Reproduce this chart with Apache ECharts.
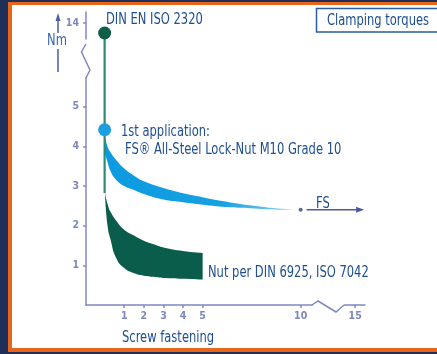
<!DOCTYPE html>
<html>
<head>
<meta charset="utf-8">
<script src="https://cdn.jsdelivr.net/npm/echarts@6/dist/echarts.min.js"></script>
<style>
  html, body { margin: 0; padding: 0; width: 437px; height: 354px; overflow: hidden; background: #1f2f57; }
  .band { position: absolute; }
</style>
</head>
<body>
<div class="band" style="left:8px;top:2px;right:0;bottom:2px;background:#e8661c"></div>
<div class="band" style="left:12px;top:5px;right:0;bottom:6px;background:#fff"></div>
<div id="main" style="position:absolute;left:0;top:0;width:437px;height:354px"></div>
<script>
var dom = document.getElementById("main");
var myChart = echarts.init(dom);

// tick labels
var xTicks = [1, 2, 3, 4, 5, 10, 15];
var yTicks = [1, 2, 3, 4, 5, 14];

// FS all-steel lock nut band (upper/lower edge)
var blueX = [0, 0.15, 0.3, 0.55, 1, 1.5, 2, 3, 4, 5, 6, 7, 8, 9, 10];
var blueHigh = [4.25, 4.0, 3.85, 3.68, 3.44, 3.26, 3.12, 2.95, 2.82, 2.72, 2.62, 2.54, 2.48, 2.43, 2.4];
var blueLow = [3.85, 3.6, 3.38, 3.18, 3.0, 2.9, 2.8, 2.66, 2.59, 2.53, 2.48, 2.45, 2.42, 2.4, 2.39];

// DIN 6925 / ISO 7042 nut band
var greenX = [0.02, 0.15, 0.3, 0.6, 1, 1.5, 2, 2.5, 3, 4, 5];
var greenHigh = [2.82, 2.55, 2.35, 2.12, 1.9, 1.75, 1.62, 1.53, 1.45, 1.36, 1.31];
var greenLow = [2.78, 2.0, 1.65, 1.17, 0.93, 0.8, 0.74, 0.71, 0.68, 0.66, 0.64];

// key points
var dinPoint = [0, 13.75];
var firstApp = [0, 4.42];
var fsEnd = [10, 2.4];
var fsArrow = [[10.3, 2.4], [15.25, 2.4]];

var axisColor = '#8088c4';
var textColor = '#1d4e8f';
var font = '"DejaVu Sans Condensed", sans-serif';

// narrow text: DejaVu condensed squeezed a bit more
function label(txt, x, y, size, extra) {
    var el = { type: 'text', x: x, y: y, z: 52, scaleX: 0.8,
        style: { text: txt, fill: textColor, font: size + 'px ' + font, verticalAlign: 'middle' } };
    if (extra) { for (var k in extra) el.style[k] = extra[k]; }
    return el;
}

// stacked band: y is put first so the stack runs on the y dimension
function bandBase(name, xs, lo) {
    return {
        type: 'line', stack: name, smooth: true, symbol: 'none', z: 3,
        encode: { x: 1, y: 0 },
        lineStyle: { width: 0 },
        data: xs.map(function (x, i) { return [lo[i], x]; })
    };
}
function bandTop(name, xs, hi, lo, color) {
    return {
        type: 'line', stack: name, smooth: true, symbol: 'none', z: 3,
        encode: { x: 1, y: 0 },
        lineStyle: { width: 0 },
        areaStyle: { color: color, opacity: 1 },
        data: xs.map(function (x, i) { return [+(hi[i] - lo[i]).toFixed(3), x]; })
    };
}

option = {
    animation: false,
    grid: { left: 86, right: 72, top: 12, bottom: 49, outerBoundsMode: 'none' },
    xAxis: {
        type: 'value',
        min: -0.95,
        max: 15.5,
        z: 10,
        breaks: [{ start: 10.8, end: 14.3, gap: '9%' }],
        breakArea: { show: false },
        splitLine: { show: false },
        axisLine: { lineStyle: { color: axisColor, width: 1.5 } },
        axisTick: { customValues: xTicks, length: 3, lineStyle: { color: axisColor, width: 1.5 } },
        axisLabel: { customValues: xTicks, color: '#7c87be', fontSize: 10.5, fontWeight: 'bold', fontFamily: font, margin: 6 }
    },
    yAxis: {
        type: 'value',
        min: 0,
        max: 14.28,
        z: 10,
        breaks: [{ start: 5.8, end: 13.6, gap: '12.3%' }],
        breakArea: { show: false },
        splitLine: { show: false },
        axisLine: { onZero: false, lineStyle: { color: axisColor, width: 1.5 } },
        axisTick: { customValues: yTicks, length: 3, lineStyle: { color: axisColor, width: 1.5 } },
        axisLabel: { customValues: yTicks, color: '#7c87be', fontSize: 10.5, fontWeight: 'bold', fontFamily: font, margin: 7 }
    },
    series: [
        bandBase('fs', blueX, blueLow),
        bandTop('fs', blueX, blueHigh, blueLow, new echarts.graphic.LinearGradient(0, 0, 1, 0, [
            { offset: 0, color: '#0b9ae0' },
            { offset: 0.6, color: '#17a1e2' },
            { offset: 1, color: '#9ad6f3' }
        ])),
        bandBase('nut', greenX, greenLow),
        bandTop('nut', greenX, greenHigh, greenLow, '#0a5c4b'),
        {
            type: 'line', symbol: 'none', z: 6,
            lineStyle: { color: '#2f8a72', width: 2.2 },
            data: [[0, greenHigh[0]], dinPoint]
        },
        {
            type: 'line', showSymbol: true, z: 6,
            lineStyle: { color: '#4a5aa3', width: 1.5 },
            itemStyle: { color: '#4a5aa3' },
            data: [
                { value: fsArrow[0], symbol: 'none' },
                { value: fsArrow[1], symbol: 'triangle', symbolSize: [6, 8], symbolRotate: -90 }
            ]
        },
        {
            type: 'scatter', symbolSize: 13, z: 7,
            itemStyle: { color: '#0e5e48', opacity: 1 },
            data: [dinPoint]
        },
        {
            type: 'scatter', symbolSize: 13, z: 7,
            itemStyle: { color: '#1b9fe0', opacity: 1 },
            data: [firstApp]
        },
        {
            type: 'scatter', symbolSize: 4, z: 7,
            itemStyle: { color: '#5866aa', opacity: 1 },
            data: [fsEnd]
        }
    ],
    graphic: [
        // y axis break zigzag
        { type: 'rect', shape: { x: 84, y: 45, width: 4, height: 32 }, style: { fill: '#fff' }, z: 50 },
        { type: 'polyline', shape: { points: [[86, 44], [81.5, 52], [90, 70], [86, 78]] },
          style: { stroke: axisColor, lineWidth: 1.5, fill: null }, z: 51 },
        // x axis break zigzag
        { type: 'rect', shape: { x: 313, y: 303, width: 31, height: 4 }, style: { fill: '#fff' }, z: 50 },
        { type: 'polyline', shape: { points: [[312, 305], [318, 301], [336, 312], [344, 305]] },
          style: { stroke: axisColor, lineWidth: 1.5, fill: null }, z: 51 },
        // Nm arrow
        { type: 'line', shape: { x1: 58, y1: 72, x2: 58, y2: 18 }, style: { stroke: '#4a5da5', lineWidth: 1.5 }, z: 50 },
        { type: 'polygon', shape: { points: [[58, 13], [55.5, 21], [60.5, 21]] }, style: { fill: '#4a5da5' }, z: 50 },
        { type: 'rect', shape: { x: 46, y: 33, width: 24, height: 16 }, style: { fill: '#fff' }, z: 51 },
        label('Nm', 57, 41, 16, { fill: '#3a64a8', align: 'center' }),
        // title box
        { type: 'rect', shape: { x: 316.5, y: 8.5, width: 122, height: 23.5 },
          style: { fill: '#fff', stroke: '#2a5ca0', lineWidth: 1.5 }, z: 50 },
        label('Clamping torques', 378, 20.5, 16, { align: 'center' }),
        // annotations
        label('DIN EN ISO 2320', 106, 20, 16),
        label('1st application:', 121, 132, 16),
        label('FS® All-Steel Lock-Nut M10 Grade 10', 125, 150, 16),
        label('FS', 316, 204, 16),
        label('Nut per DIN 6925, ISO 7042', 208, 273, 16),
        label('Screw fastening', 122, 338, 16)
    ]
};
if (option && typeof option === "object") {
    myChart.setOption(option, true);
}
</script>
</body>
</html>
